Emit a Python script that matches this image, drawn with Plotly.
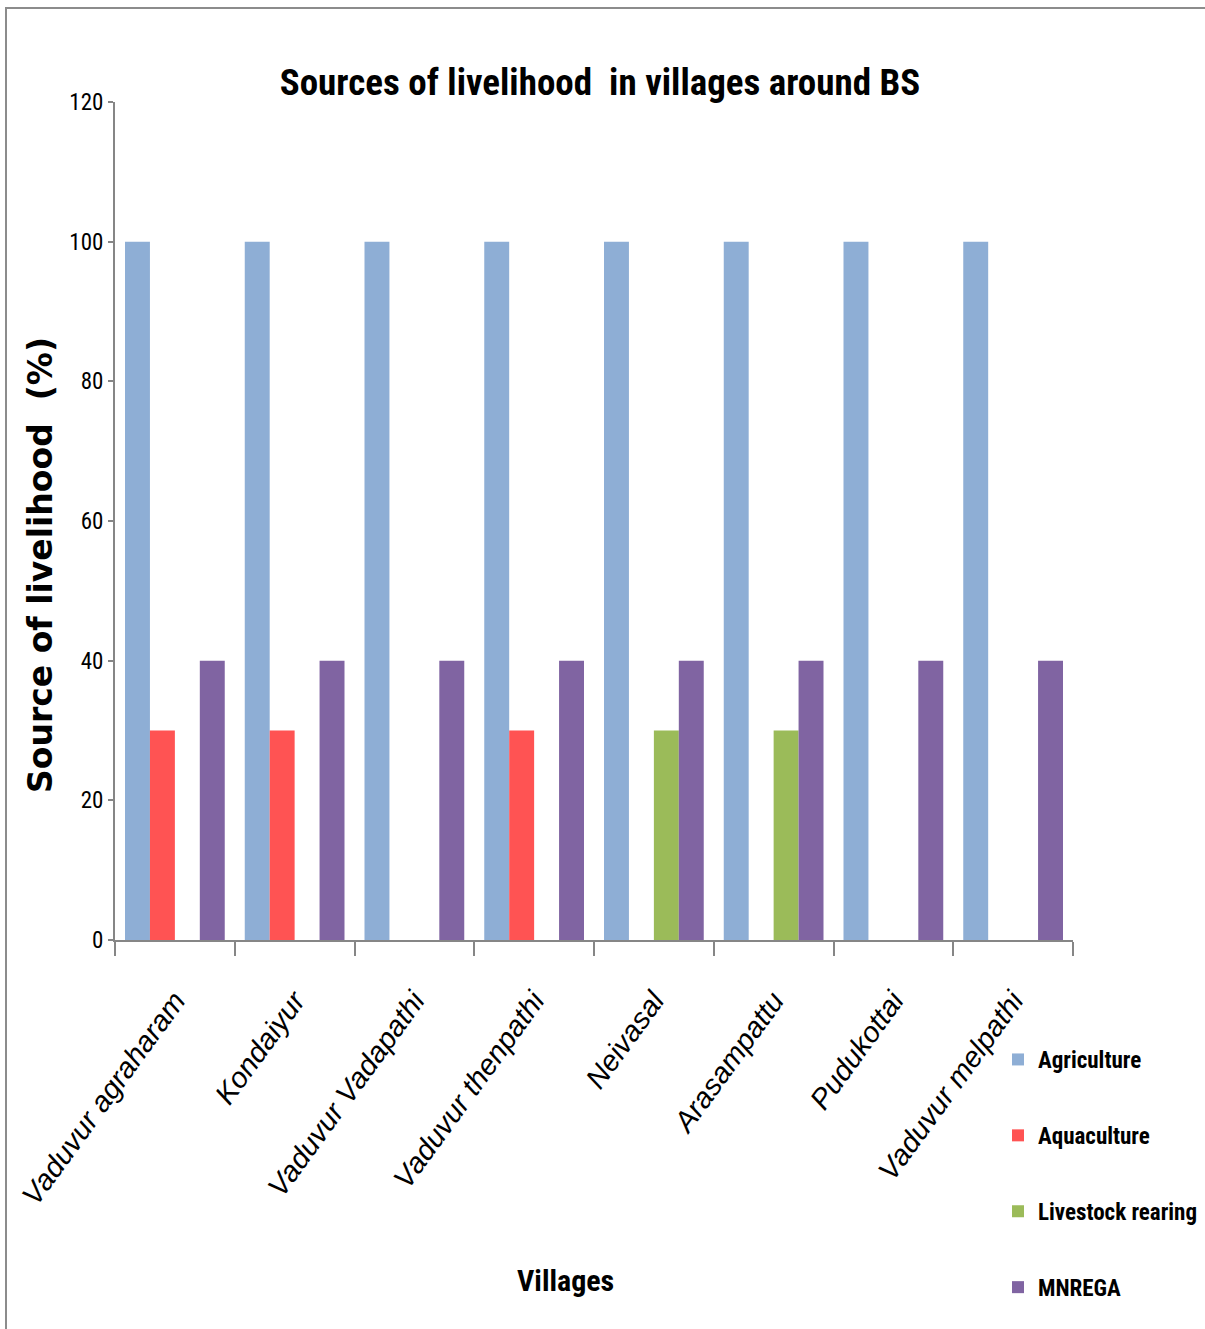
import plotly.graph_objects as go

villages = ["Vaduvur agraharam", "Kondaiyur", "Vaduvur Vadapathi", "Vaduvur thenpathi",
            "Neivasal", "Arasampattu", "Pudukottai", "Vaduvur melpathi"]
agriculture = [100, 100, 100, 100, 100, 100, 100, 100]
aquaculture = [30, 30, 0, 30, 0, 0, 0, 0]
livestock = [0, 0, 0, 0, 30, 30, 0, 0]
mnrega = [40, 40, 40, 40, 40, 40, 40, 40]
y_ticks = [0, 20, 40, 60, 80, 100, 120]

series = [
    ("Agriculture", agriculture, "#8EAED5"),
    ("Aquaculture", aquaculture, "#FF5353"),
    ("Livestock rearing", livestock, "#9BBB59"),
    ("MNREGA", mnrega, "#8064A2"),
]

NARROW = "Liberation Sans Narrow, Arial Narrow, Roboto Condensed, sans-serif"

fig = go.Figure()
for i, (name, vals, col) in enumerate(series):
    fig.add_trace(go.Bar(x=villages, y=vals, name=name, marker_color=col,
                         marker_line_width=0, legendgroup=str(i)))

W, H = 1205, 1329
L, R, T, B = 115, 1073, 102, 940
pw, ph = R - L, B - T

def px(x):
    return (x - L) / pw

def py(y):
    return (B - y) / ph

fig.update_layout(
    width=W, height=H,
    margin=dict(l=L, r=W - R, t=T, b=H - B, autoexpand=False),
    paper_bgcolor="white", plot_bgcolor="white",
    barmode="group", bargap=0.167, bargroupgap=0,
    showlegend=True,
    legend=dict(x=px(998), y=py(1038), xanchor="left", yanchor="top",
                font=dict(family=NARROW, size=23, color="black", weight="bold"),
                tracegroupgap=43, bgcolor="rgba(0,0,0,0)"),
    title=dict(text="<b>Sources of livelihood  in villages around BS</b>",
               x=600 / W, xanchor="center", y=1 - 82 / H, yanchor="middle",
               font=dict(family=NARROW, size=37, color="black")),
    xaxis=dict(type="category", range=[-0.5, 7.5], showline=True, linecolor="#868686",
               linewidth=2, ticks="outside", tickson="boundaries", ticklen=14,
               tickcolor="#868686", tickwidth=1.5, tickangle=-54, ticklabelstandoff=30,
               tickfont=dict(family="Liberation Sans, Arial, sans-serif", size=29,
                             color="black"),
               showgrid=False, zeroline=False),
    yaxis=dict(range=[0, 120], tickvals=y_ticks, showline=True, linecolor="#868686",
               linewidth=2, ticks="outside", ticklen=5, tickcolor="#868686",
               tickwidth=1.5, showgrid=False, zeroline=False,
               tickfont=dict(family=NARROW, size=23, color="black")),
    shapes=[dict(type="rect", xref="paper", yref="paper",
                 x0=px(6), x1=px(1225), y0=py(1345), y1=py(8),
                 line=dict(color="#8c8c8c", width=2), fillcolor="rgba(0,0,0,0)",
                 layer="below")],
    annotations=[
        dict(text="<b>Villages</b>", xref="paper", yref="paper", x=px(565), y=py(1280),
             xanchor="center", yanchor="middle", showarrow=False,
             font=dict(family=NARROW, size=30, color="black")),
        dict(text="<b>Source of livelihood  (%)</b>", xref="paper", yref="paper",
             x=px(40), y=py(565), xanchor="center", yanchor="middle", textangle=-90,
             showarrow=False,
             font=dict(family="DejaVu Sans, Verdana, sans-serif", size=33, color="black")),
    ],
)

fig.update_xaxes(ticktext=[f"<i>{v}</i>" for v in villages], tickvals=villages)

fig.write_html("out.html")
